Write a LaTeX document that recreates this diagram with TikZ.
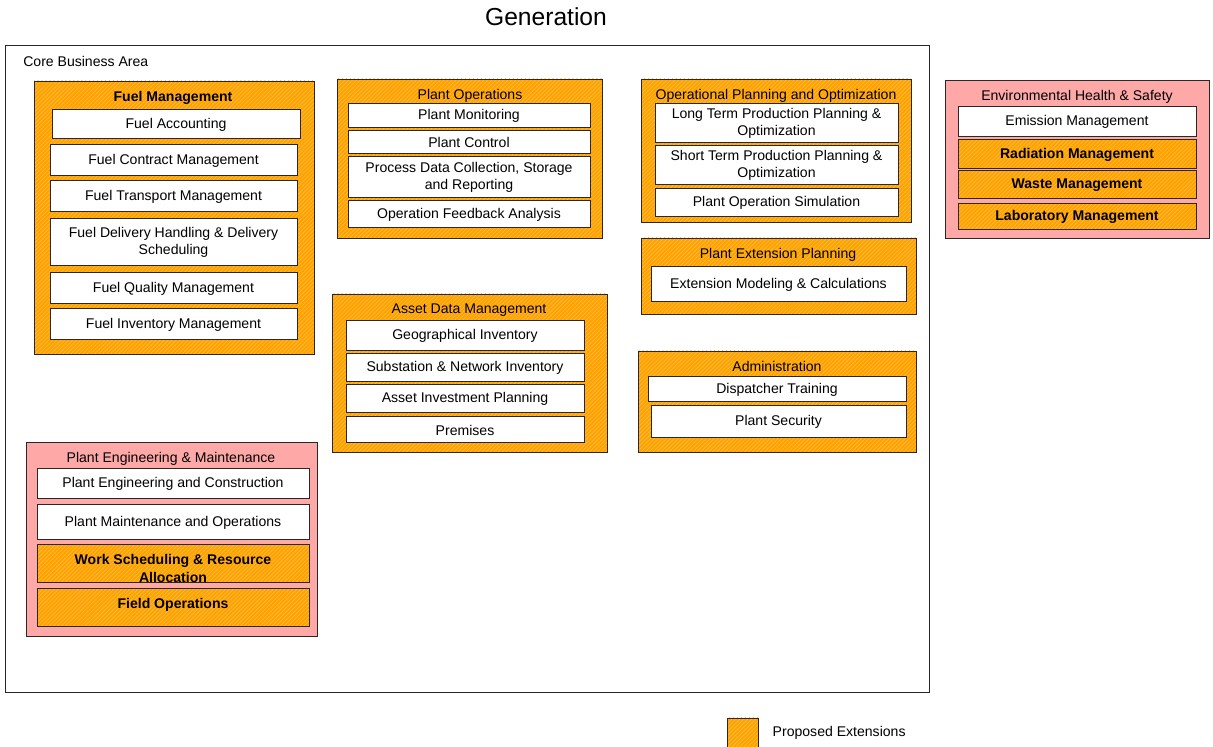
\documentclass[tikz,border=0pt]{standalone}
\usepackage{fontspec}
\setmainfont{Liberation Sans}
\usetikzlibrary{positioning,fit,patterns.meta}

\definecolor{extorange}{RGB}{255,162,0}
\definecolor{hatchorange}{RGB}{255,188,64}
\definecolor{areapink}{RGB}{255,168,168}
\definecolor{boxline}{RGB}{40,40,40}

\tikzset{
  box/.style={draw=boxline, line width=0.6pt, inner sep=0pt},
  boxtext/.style={inner sep=0pt, align=center, yshift=-0.7pt, font=\fontsize{10}{12.5}\selectfont},
  boldtext/.style={boxtext, font=\fontsize{10}{12.8}\selectfont\bfseries},
  plainbox/.style={box, fill=white},
  extbox/.style={box, preaction={fill=extorange},
    pattern={Lines[angle=45,distance=2pt,line width=0.45pt]}, pattern color=hatchorange},
  areabox/.style={box, fill=areapink},
  grouptitle/.style={inner sep=0pt, font=\fontsize{10}{12}\selectfont},
  boldtitle/.style={inner sep=0pt, font=\fontsize{10}{12}\selectfont\bfseries},
}

\begin{document}
\begin{tikzpicture}[x=0.025cm, y=-0.025cm]
	\useasboundingbox (0,0) rectangle (1213,747);
	
	\node[font=\fontsize{17.5}{20}\selectfont] (title) at (546,17) {Generation};
	
	% core business area
	\node[box, fit={(5,45)(929,692)}] (core) {};
	\node[grouptitle, anchor=west] (coretitle) at (23,61) {Core Business Area};
	
	% fuel management
	\node[extbox, fit={(34,81)(314,354)}] (fuelmgmt) {};
	\node[boldtitle] (fuelmgmttitle) at (173,97.5) {Fuel Management};
	\node[plainbox, fit={(52,109)(300,138)}, label={[boxtext]center:Fuel Accounting}] (fuelacc) {};
	\node[plainbox, fit={(50,144)(297,175)}, label={[boxtext]center:Fuel Contract Management}] (fuelcontract) {};
	\node[plainbox, fit={(50,180)(297,211)}, label={[boxtext]center:Fuel Transport Management}] (fueltransport) {};
	\node[plainbox, fit={(50,218)(297,265)}, label={[boxtext]center:Fuel Delivery Handling \& Delivery\\Scheduling}] (fueldelivery) {};
	\node[plainbox, fit={(50,272)(297,303)}, label={[boxtext]center:Fuel Quality Management}] (fuelquality) {};
	\node[plainbox, fit={(50,308)(297,339)}, label={[boxtext]center:Fuel Inventory Management}] (fuelinventory) {};
	
	% plant operations
	\node[extbox, fit={(337,79)(602,238)}] (plantops) {};
	\node[grouptitle] (plantopstitle) at (470,95.5) {Plant Operations};
	\node[plainbox, fit={(348,103)(590,127)}, label={[boxtext]center:Plant Monitoring}] (plantmon) {};
	\node[plainbox, fit={(348,130)(590,153)}, label={[boxtext]center:Plant Control}] (plantctrl) {};
	\node[plainbox, fit={(348,156)(590,197)}, label={[boxtext]center:Process Data Collection, Storage\\and Reporting}] (processdata) {};
	\node[plainbox, fit={(348,200)(590,227)}, label={[boxtext]center:Operation Feedback Analysis}] (opfeedback) {};
	
	% operational planning
	\node[extbox, fit={(641,79)(911,222)}] (opplan) {};
	\node[grouptitle] (opplantitle) at (776,95.5) {Operational Planning and Optimization};
	\node[plainbox, fit={(655,103)(898,142)}, label={[boxtext]center:Long Term Production Planning \&\\Optimization}] (longterm) {};
	\node[plainbox, fit={(655,145)(898,184)}, label={[boxtext]center:Short Term Production Planning \&\\Optimization}] (shortterm) {};
	\node[plainbox, fit={(655,188)(898,216)}, label={[boxtext]center:Plant Operation Simulation}] (opsim) {};
	
	% plant extension planning
	\node[extbox, fit={(641,238)(916,314)}] (extplan) {};
	\node[grouptitle] (extplantitle) at (778,254.5) {Plant Extension Planning};
	\node[plainbox, fit={(651,266)(906,301)}, label={[boxtext]center:Extension Modeling \& Calculations}] (extmodel) {};
	
	% administration
	\node[extbox, fit={(638,351)(916,452)}] (admin) {};
	\node[grouptitle] (admintitle) at (777,366.5) {Administration};
	\node[plainbox, fit={(648,376)(906,401)}, label={[boxtext]center:Dispatcher Training}] (dispatcher) {};
	\node[plainbox, fit={(651,405)(906,437)}, label={[boxtext]center:Plant Security}] (security) {};
	
	% asset data management
	\node[extbox, fit={(332,294)(607,452)}] (assetdata) {};
	\node[grouptitle] (assetdatatitle) at (469,310.5) {Asset Data Management};
	\node[plainbox, fit={(346,320)(584,350)}, label={[boxtext]center:Geographical Inventory}] (geoinv) {};
	\node[plainbox, fit={(346,353)(584,381)}, label={[boxtext]center:Substation \& Network Inventory}] (subinv) {};
	\node[plainbox, fit={(346,384)(584,412)}, label={[boxtext]center:Asset Investment Planning}] (assetinvest) {};
	\node[plainbox, fit={(346,416)(584,442)}, label={[boxtext]center:Premises}] (premises) {};
	
	% plant engineering & maintenance
	\node[areabox, fit={(26,442)(317,636)}] (plantengmaint) {};
	\node[grouptitle] (plantengmainttitle) at (171,458.5) {Plant Engineering \& Maintenance};
	\node[plainbox, fit={(37,468)(309,498)}, label={[boxtext]center:Plant Engineering and Construction}] (plantengcons) {};
	\node[plainbox, fit={(37,504)(309,539)}, label={[boxtext]center:Plant Maintenance and Operations}] (plantmaintops) {};
	\node[extbox, fit={(37,544)(309,582)}] (workschedule) {};
	\node[boldtext] (workscheduletext) at (173,567) {Work Scheduling \& Resource\\Allocation};
	\node[extbox, fit={(37,588)(309,626)}, label={[boldtext, yshift=2pt]center:Field Operations}] (fieldops) {};
	
	% environmental health & safety
	\node[areabox, fit={(945,80)(1209,238)}] (envhealth) {};
	\node[grouptitle] (envhealthtitle) at (1077,96.5) {Environmental Health \& Safety};
	\node[plainbox, fit={(958,106)(1196,136)}, label={[boxtext]center:Emission Management}] (emission) {};
	\node[extbox, fit={(958,139)(1196,168)}, label={[boldtext]center:Radiation Management}] (radiation) {};
	\node[extbox, fit={(958,170)(1196,198)}, label={[boldtext]center:Waste Management}] (waste) {};
	\node[extbox, fit={(958,203)(1196,229)}, label={[boldtext]center:Laboratory Management}] (laboratory) {};
	
	% legend
	\node[extbox, fit={(727,718)(758,747)}] (legendbox) {};
	\node[grouptitle, right=0.35cm of legendbox] (legendtext) {Proposed Extensions};
\end{tikzpicture}
\end{document}
